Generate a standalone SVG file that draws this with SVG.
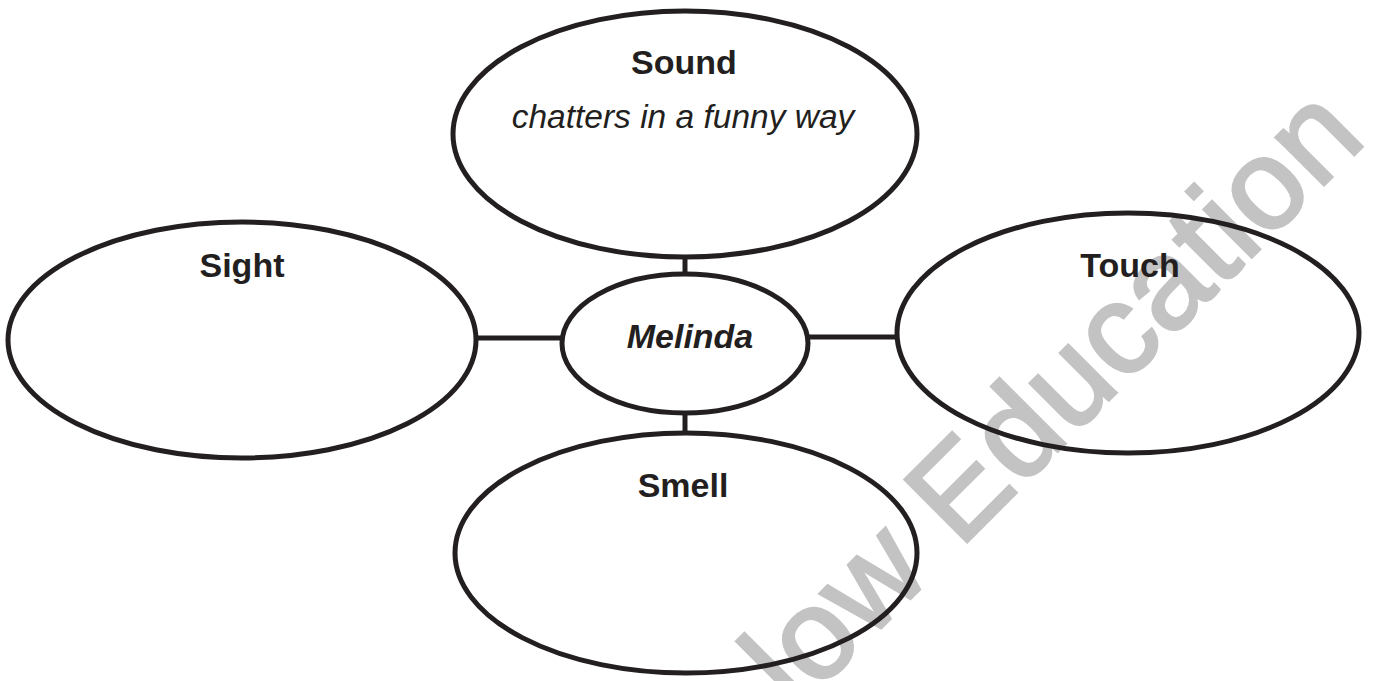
<svg xmlns="http://www.w3.org/2000/svg" width="1373" height="681" viewBox="0 0 1373 681">
<style>
.node{fill:none;stroke:#231f20;stroke-width:5}
.conn{stroke:#231f20;stroke-width:5}
.h{font-family:"Liberation Sans",Arial,sans-serif;font-weight:bold;font-size:34px;fill:#231f20;text-anchor:middle}
.it{font-family:"Liberation Sans",Arial,sans-serif;font-style:italic;font-size:33.5px;fill:#231f20;text-anchor:middle}
.wm{font-family:"Liberation Sans",Arial,sans-serif;font-size:128px;letter-spacing:1px;fill:#c3c3c3;stroke:#c3c3c3;stroke-width:3}
</style>
<rect width="1373" height="681" fill="#ffffff"/>
<text class="wm" transform="translate(796,713) rotate(-45)">low Education</text>
<g id="connectors">
<line class="conn" x1="685" y1="256" x2="685" y2="275"/>
<line class="conn" x1="685" y1="412" x2="685" y2="434"/>
<line class="conn" x1="475" y1="338" x2="562" y2="338"/>
<line class="conn" x1="807" y1="337" x2="898" y2="337"/>
</g>
<g id="sound">
<ellipse class="node" cx="685" cy="134" rx="232" ry="123"/>
<text class="h" x="684" y="74">Sound</text>
<text class="it" x="683" y="128">chatters in a funny way</text>
</g>
<g id="melinda">
<ellipse class="node" cx="685" cy="343.5" rx="123" ry="69.5"/>
<text class="h" x="690" y="348" font-style="italic" font-size="36.5">Melinda</text>
</g>
<g id="sight">
<ellipse class="node" cx="242" cy="340" rx="234" ry="118"/>
<text class="h" x="242" y="277">Sight</text>
</g>
<g id="touch">
<ellipse class="node" cx="1128" cy="333" rx="231" ry="120"/>
<text class="h" x="1130" y="277">Touch</text>
</g>
<g id="smell">
<ellipse class="node" cx="686" cy="553" rx="231" ry="120"/>
<text class="h" x="683" y="497">Smell</text>
</g>
</svg>
